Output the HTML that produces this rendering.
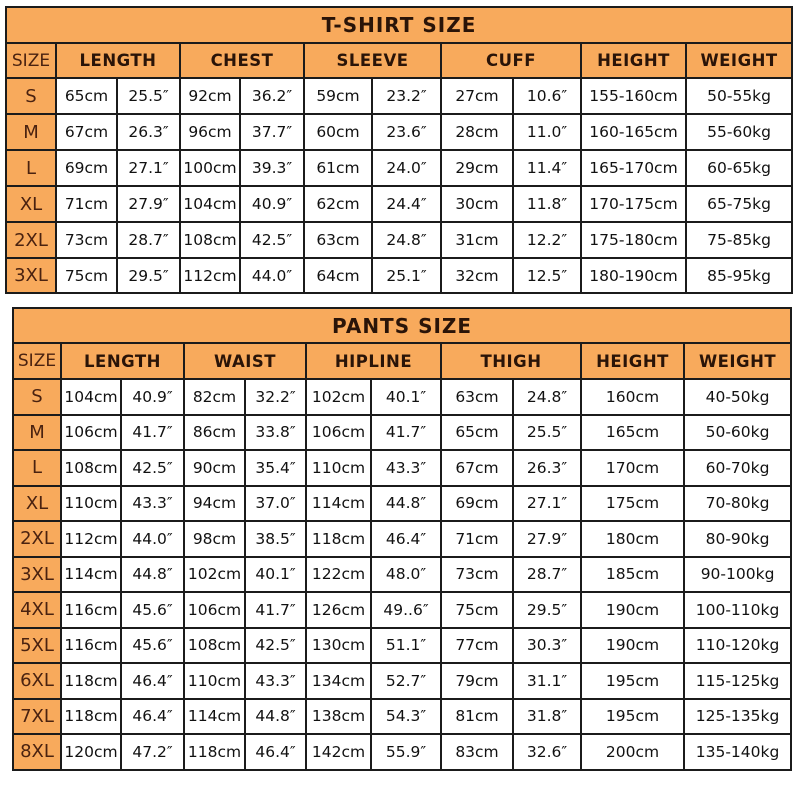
<!DOCTYPE html>
<html><head><meta charset="utf-8"><style>
html,body{margin:0;padding:0;background:#fff;width:800px;height:800px;overflow:hidden}
table{position:absolute;border-collapse:collapse;table-layout:fixed;font-family:"DejaVu Sans","Liberation Sans",sans-serif}
td{border:2px solid #1b1b1b;text-align:center;padding:0;font-size:15.5px;color:#111;white-space:nowrap;overflow:hidden}
.o{background:#f8aa5c}
.t{font-size:20px;font-weight:bold;letter-spacing:1px;color:#2a1408}
.h{font-weight:bold;font-size:16.5px;color:#2a1408;letter-spacing:0.5px}
.s{font-size:18px;color:#4a2210}
.sz{font-size:17px;color:#4a2210}
</style></head><body>
<table style="left:5px;top:6px;width:786px">
<colgroup><col style="width:50px"><col style="width:61px"><col style="width:63px"><col style="width:60px"><col style="width:64px"><col style="width:68px"><col style="width:69px"><col style="width:72px"><col style="width:68px"><col style="width:105px"><col style="width:106px"></colgroup>
<tr style="height:36px"><td class="o t" colspan="11">T-SHIRT SIZE</td></tr>
<tr style="height:35px"><td class="o sz">SIZE</td><td class="o h" colspan="2">LENGTH</td><td class="o h" colspan="2">CHEST</td><td class="o h" colspan="2">SLEEVE</td><td class="o h" colspan="2">CUFF</td><td class="o h">HEIGHT</td><td class="o h">WEIGHT</td></tr>
<tr style="height:36px"><td class="o s">S</td><td>65cm</td><td>25.5″</td><td>92cm</td><td>36.2″</td><td>59cm</td><td>23.2″</td><td>27cm</td><td>10.6″</td><td>155-160cm</td><td>50-55kg</td></tr>
<tr style="height:36px"><td class="o s">M</td><td>67cm</td><td>26.3″</td><td>96cm</td><td>37.7″</td><td>60cm</td><td>23.6″</td><td>28cm</td><td>11.0″</td><td>160-165cm</td><td>55-60kg</td></tr>
<tr style="height:36px"><td class="o s">L</td><td>69cm</td><td>27.1″</td><td>100cm</td><td>39.3″</td><td>61cm</td><td>24.0″</td><td>29cm</td><td>11.4″</td><td>165-170cm</td><td>60-65kg</td></tr>
<tr style="height:36px"><td class="o s">XL</td><td>71cm</td><td>27.9″</td><td>104cm</td><td>40.9″</td><td>62cm</td><td>24.4″</td><td>30cm</td><td>11.8″</td><td>170-175cm</td><td>65-75kg</td></tr>
<tr style="height:36px"><td class="o s">2XL</td><td>73cm</td><td>28.7″</td><td>108cm</td><td>42.5″</td><td>63cm</td><td>24.8″</td><td>31cm</td><td>12.2″</td><td>175-180cm</td><td>75-85kg</td></tr>
<tr style="height:35px"><td class="o s">3XL</td><td>75cm</td><td>29.5″</td><td>112cm</td><td>44.0″</td><td>64cm</td><td>25.1″</td><td>32cm</td><td>12.5″</td><td>180-190cm</td><td>85-95kg</td></tr>
</table>
<table style="left:12px;top:307px;width:778px">
<colgroup><col style="width:48px"><col style="width:60px"><col style="width:63px"><col style="width:61px"><col style="width:61px"><col style="width:65px"><col style="width:70px"><col style="width:72px"><col style="width:68px"><col style="width:103px"><col style="width:107px"></colgroup>
<tr style="height:35px"><td class="o t" colspan="11">PANTS SIZE</td></tr>
<tr style="height:36px"><td class="o sz">SIZE</td><td class="o h" colspan="2">LENGTH</td><td class="o h" colspan="2">WAIST</td><td class="o h" colspan="2">HIPLINE</td><td class="o h" colspan="2">THIGH</td><td class="o h">HEIGHT</td><td class="o h">WEIGHT</td></tr>
<tr style="height:35.5px"><td class="o s">S</td><td>104cm</td><td>40.9″</td><td>82cm</td><td>32.2″</td><td>102cm</td><td>40.1″</td><td>63cm</td><td>24.8″</td><td>160cm</td><td>40-50kg</td></tr>
<tr style="height:35.5px"><td class="o s">M</td><td>106cm</td><td>41.7″</td><td>86cm</td><td>33.8″</td><td>106cm</td><td>41.7″</td><td>65cm</td><td>25.5″</td><td>165cm</td><td>50-60kg</td></tr>
<tr style="height:35.5px"><td class="o s">L</td><td>108cm</td><td>42.5″</td><td>90cm</td><td>35.4″</td><td>110cm</td><td>43.3″</td><td>67cm</td><td>26.3″</td><td>170cm</td><td>60-70kg</td></tr>
<tr style="height:35.5px"><td class="o s">XL</td><td>110cm</td><td>43.3″</td><td>94cm</td><td>37.0″</td><td>114cm</td><td>44.8″</td><td>69cm</td><td>27.1″</td><td>175cm</td><td>70-80kg</td></tr>
<tr style="height:35.5px"><td class="o s">2XL</td><td>112cm</td><td>44.0″</td><td>98cm</td><td>38.5″</td><td>118cm</td><td>46.4″</td><td>71cm</td><td>27.9″</td><td>180cm</td><td>80-90kg</td></tr>
<tr style="height:35.5px"><td class="o s">3XL</td><td>114cm</td><td>44.8″</td><td>102cm</td><td>40.1″</td><td>122cm</td><td>48.0″</td><td>73cm</td><td>28.7″</td><td>185cm</td><td>90-100kg</td></tr>
<tr style="height:35.5px"><td class="o s">4XL</td><td>116cm</td><td>45.6″</td><td>106cm</td><td>41.7″</td><td>126cm</td><td>49..6″</td><td>75cm</td><td>29.5″</td><td>190cm</td><td>100-110kg</td></tr>
<tr style="height:35.5px"><td class="o s">5XL</td><td>116cm</td><td>45.6″</td><td>108cm</td><td>42.5″</td><td>130cm</td><td>51.1″</td><td>77cm</td><td>30.3″</td><td>190cm</td><td>110-120kg</td></tr>
<tr style="height:35.5px"><td class="o s">6XL</td><td>118cm</td><td>46.4″</td><td>110cm</td><td>43.3″</td><td>134cm</td><td>52.7″</td><td>79cm</td><td>31.1″</td><td>195cm</td><td>115-125kg</td></tr>
<tr style="height:35.5px"><td class="o s">7XL</td><td>118cm</td><td>46.4″</td><td>114cm</td><td>44.8″</td><td>138cm</td><td>54.3″</td><td>81cm</td><td>31.8″</td><td>195cm</td><td>125-135kg</td></tr>
<tr style="height:35.5px"><td class="o s">8XL</td><td>120cm</td><td>47.2″</td><td>118cm</td><td>46.4″</td><td>142cm</td><td>55.9″</td><td>83cm</td><td>32.6″</td><td>200cm</td><td>135-140kg</td></tr>
</table>
</body></html>
